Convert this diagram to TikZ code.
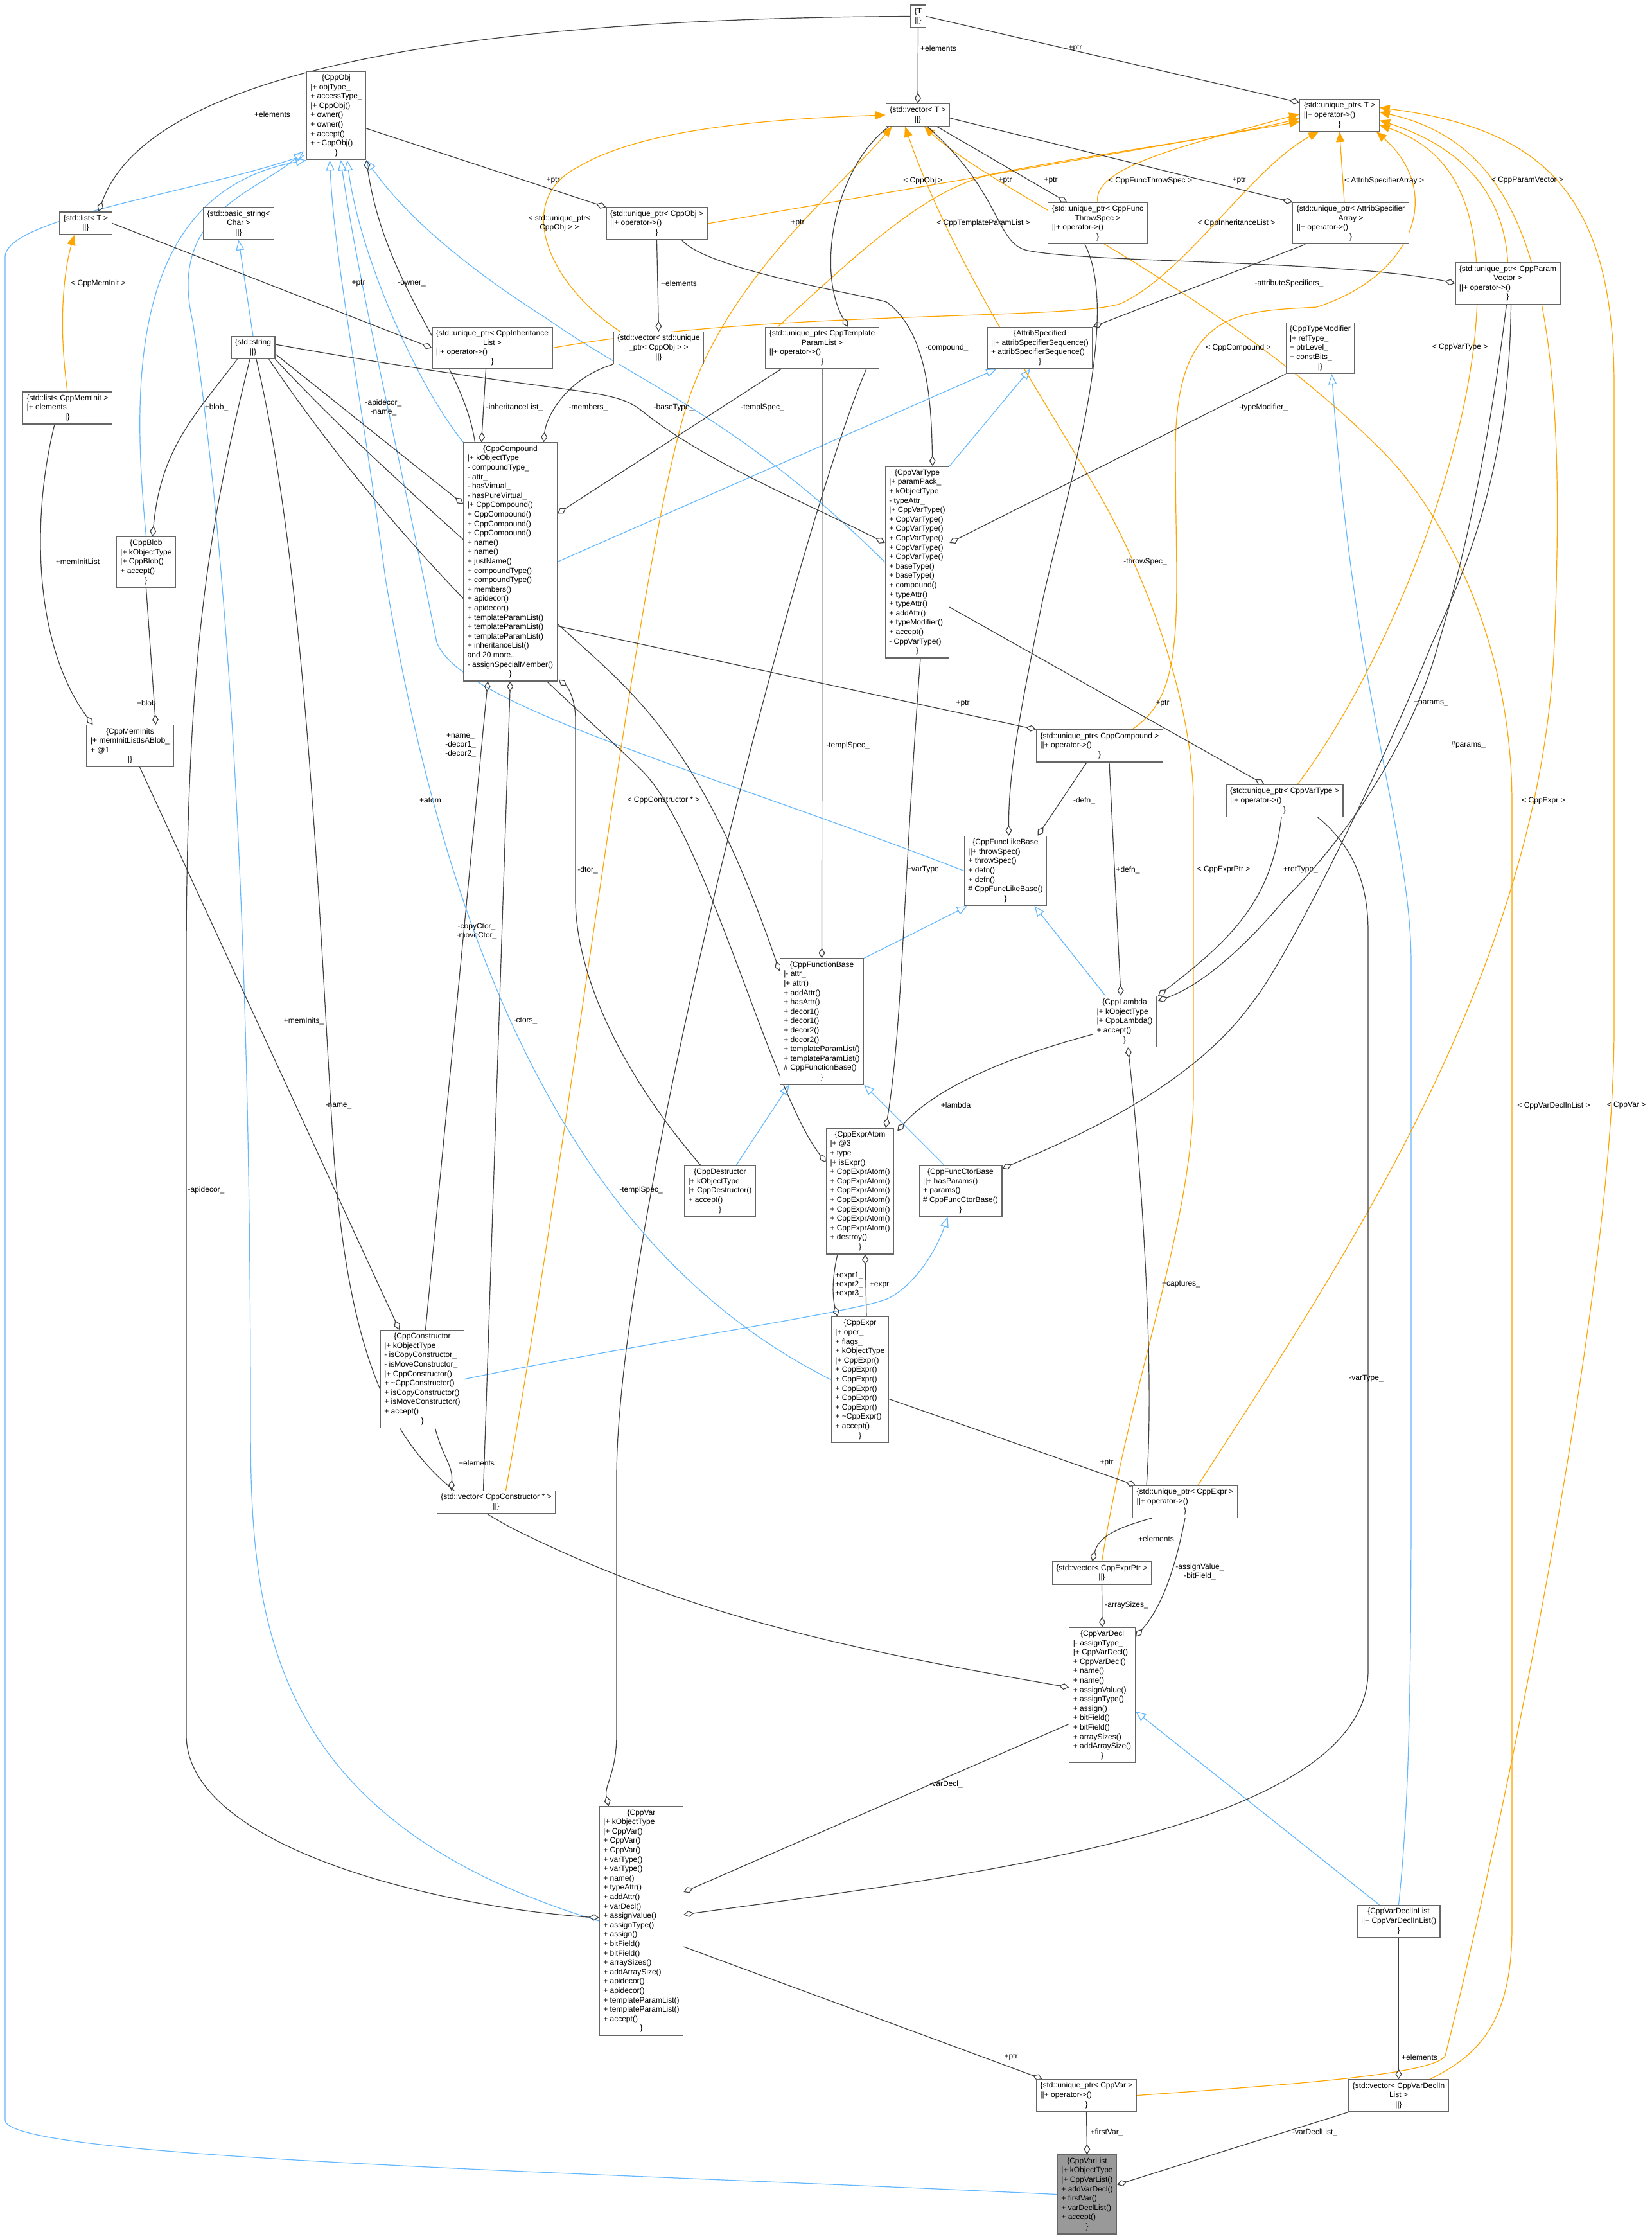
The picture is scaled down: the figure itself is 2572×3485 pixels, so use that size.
\documentclass[tikz,border=0pt]{standalone}
\usepackage{fontspec}
\setmainfont{Liberation Sans}
\usetikzlibrary{arrows.meta,calc}
\pgfdeclarelayer{bg}
\pgfsetlayers{bg,main}
\definecolor{dk}{HTML}{404040}
\definecolor{bl}{HTML}{63B8FF}
\definecolor{orr}{HTML}{FFA500}
\definecolor{bx}{HTML}{666666}
\newcommand\cc[1]{\multicolumn{1}{@{}c@{}}{#1}}
\newcommand\rec[1]{\begin{tabular}{@{}l@{}}#1\end{tabular}}
\tikzset{
 box/.style={draw=bx,line width=1.3pt,fill=white,inner xsep=6pt,inner ysep=3pt,font=\fontsize{12}{14.6}\selectfont},
 lbl/.style={font=\fontsize{12}{14}\selectfont,inner sep=1pt,align=center},
 comp/.style={draw=dk,line width=1.2pt,-{Diamond[open,length=16pt,width=10pt]}},
 inh/.style={draw=bl,line width=1.2pt,-{Triangle[open,length=16pt,width=13pt]}},
 tpl/.style={draw=orr,line width=1.2pt,-{Triangle[length=16pt,width=13pt]}},
}
\begin{document}
\begin{tikzpicture}[x=1pt,y=-1pt]
\path[use as bounding box] (0,0) rectangle (2572,3485);
% nodes
\node[box] (T) at (1429.5,25.5) {\rec{\cc{\{T}\\\cc{||\}}}};
\node[box] (vecT) at (1429,179) {\rec{\cc{\{std::vector< T >}\\\cc{||\}}}};
\node[box] (uT) at (2085.5,179.5) {\rec{\cc{\{std::unique\_ptr< T >}\\||+ operator->()\\\cc{\}}}};
\node[box] (obj) at (523.5,180) {\rec{\cc{\{CppObj}\\|+ objType\_\\+ accessType\_\\|+ CppObj()\\+ owner()\\+ owner()\\+ accept()\\+ \textasciitilde CppObj()\\\cc{\}}}};
\node[box] (listT) at (133.5,347.5) {\rec{\cc{\{std::list< T >}\\\cc{||\}}}};
\node[box] (bstr) at (371.5,348) {\rec{\cc{\{std::basic\_string<}\\\cc{Char >}\\\cc{||\}}}};
\node[box] (str) at (394,541) {\rec{\cc{\{std::string}\\\cc{||\}}}};
\node[box] (listMI) at (105,635) {\rec{\{std::list< CppMemInit >\\|+ elements\\\cc{|\}}}};
\node[box] (blob) at (227.5,875) {\rec{\cc{\{CppBlob}\\|+ kObjectType\\|+ CppBlob()\\+ accept()\\\cc{\}}}};
\node[box] (memInits) at (202.5,1161) {\rec{\cc{\{CppMemInits}\\|+ memInitListIsABlob\_\\+ @1\\\cc{|\}}}};
\node[box] (comp) at (794.5,874.5) {\rec{\cc{\{CppCompound}\\|+ kObjectType\\- compoundType\_\\- attr\_\\- hasVirtual\_\\- hasPureVirtual\_\\|+ CppCompound()\\+ CppCompound()\\+ CppCompound()\\+ CppCompound()\\+ name()\\+ name()\\+ justName()\\+ compoundType()\\+ compoundType()\\+ members()\\+ apidecor()\\+ apidecor()\\+ templateParamList()\\+ templateParamList()\\+ templateParamList()\\+ inheritanceList()\\and 20 more...\\- assignSpecialMember()\\\cc{\}}}};
\node[box] (uInh) at (766.5,541.5) {\rec{\cc{\{std::unique\_ptr< CppInheritance}\\\cc{List >}\\||+ operator->()\\\cc{\}}}};
\node[box] (uObj) at (1022.5,348) {\rec{\{std::unique\_ptr< CppObj >\\||+ operator->()\\\cc{\}}}};
\node[box] (vObj) at (1025.5,541.5) {\rec{\cc{\{std::vector< std::unique}\\\cc{\_ptr< CppObj > >}\\\cc{||\}}}};
\node[box] (uTpl) at (1280,541.5) {\rec{\cc{\{std::unique\_ptr< CppTemplate}\\\cc{ParamList >}\\||+ operator->()\\\cc{\}}}};
\node[box] (uThrow) at (1709,347.5) {\rec{\cc{\{std::unique\_ptr< CppFunc}\\\cc{ThrowSpec >}\\||+ operator->()\\\cc{\}}}};
\node[box] (uAttr) at (2103,347.5) {\rec{\cc{\{std::unique\_ptr< AttribSpecifier}\\\cc{Array >}\\||+ operator->()\\\cc{\}}}};
\node[box] (uParam) at (2347.5,441) {\rec{\cc{\{std::unique\_ptr< CppParam}\\\cc{Vector >}\\||+ operator->()\\\cc{\}}}};
\node[box] (attrSp) at (1619,541.5) {\rec{\cc{\{AttribSpecified}\\||+ attribSpecifierSequence()\\+ attribSpecifierSequence()\\\cc{\}}}};
\node[box] (typeMod) at (2055.5,542) {\rec{\cc{\{CppTypeModifier}\\|+ refType\_\\+ ptrLevel\_\\+ constBits\_\\\cc{|\}}}};
\node[box] (varType) at (1428,875) {\rec{\cc{\{CppVarType}\\|+ paramPack\_\\+ kObjectType\\- typeAttr\_\\|+ CppVarType()\\+ CppVarType()\\+ CppVarType()\\+ CppVarType()\\+ CppVarType()\\+ CppVarType()\\+ baseType()\\+ baseType()\\+ compound()\\+ typeAttr()\\+ typeAttr()\\+ addAttr()\\+ typeModifier()\\+ accept()\\- CppVarType()\\\cc{\}}}};
\node[box] (uComp) at (1712,1161) {\rec{\{std::unique\_ptr< CppCompound >\\||+ operator->()\\\cc{\}}}};
\node[box] (uVarType) at (2000,1246.5) {\rec{\{std::unique\_ptr< CppVarType >\\||+ operator->()\\\cc{\}}}};
\node[box] (funcLike) at (1565.5,1355.5) {\rec{\cc{\{CppFuncLikeBase}\\||+ throwSpec()\\+ throwSpec()\\+ defn()\\+ defn()\\\# CppFuncLikeBase()\\\cc{\}}}};
\node[box] (funcBase) at (1279.5,1590) {\rec{\cc{\{CppFunctionBase}\\|- attr\_\\|+ attr()\\+ addAttr()\\+ hasAttr()\\+ decor1()\\+ decor1()\\+ decor2()\\+ decor2()\\+ templateParamList()\\+ templateParamList()\\\# CppFunctionBase()\\\cc{\}}}};
\node[box] (lambda) at (1751,1590) {\rec{\cc{\{CppLambda}\\|+ kObjectType\\|+ CppLambda()\\+ accept()\\\cc{\}}}};
\node[box] (atom) at (1339,1854) {\rec{\cc{\{CppExprAtom}\\|+ @3\\+ type\\|+ isExpr()\\+ CppExprAtom()\\+ CppExprAtom()\\+ CppExprAtom()\\+ CppExprAtom()\\+ CppExprAtom()\\+ CppExprAtom()\\+ CppExprAtom()\\+ destroy()\\\cc{\}}}};
\node[box] (ctorBase) at (1495.5,1854) {\rec{\cc{\{CppFuncCtorBase}\\||+ hasParams()\\+ params()\\\# CppFuncCtorBase()\\\cc{\}}}};
\node[box] (dtor) at (1121,1854) {\rec{\cc{\{CppDestructor}\\|+ kObjectType\\|+ CppDestructor()\\+ accept()\\\cc{\}}}};
\node[box] (expr) at (1339,2147.5) {\rec{\cc{\{CppExpr}\\|+ oper\_\\+ flags\_\\+ kObjectType\\|+ CppExpr()\\+ CppExpr()\\+ CppExpr()\\+ CppExpr()\\+ CppExpr()\\+ CppExpr()\\+ \textasciitilde CppExpr()\\+ accept()\\\cc{\}}}};
\node[box] (ctor) at (657.5,2146.5) {\rec{\cc{\{CppConstructor}\\|+ kObjectType\\- isCopyConstructor\_\\- isMoveConstructor\_\\|+ CppConstructor()\\+ \textasciitilde CppConstructor()\\+ isCopyConstructor()\\+ isMoveConstructor()\\+ accept()\\\cc{\}}}};
\node[box] (vCtor) at (772.5,2338) {\rec{\{std::vector< CppConstructor * >\\\cc{||\}}}};
\node[box] (uExpr) at (1845,2337.5) {\rec{\{std::unique\_ptr< CppExpr >\\||+ operator->()\\\cc{\}}}};
\node[box] (vExprPtr) at (1715.5,2448.5) {\rec{\{std::vector< CppExprPtr >\\\cc{||\}}}};
\node[box] (varDecl) at (1716,2638.5) {\rec{\cc{\{CppVarDecl}\\|- assignType\_\\|+ CppVarDecl()\\+ CppVarDecl()\\+ name()\\+ name()\\+ assignValue()\\+ assignType()\\+ assign()\\+ bitField()\\+ bitField()\\+ arraySizes()\\+ addArraySize()\\\cc{\}}}};
\node[box] (var) at (998.5,2990) {\rec{\cc{\{CppVar}\\|+ kObjectType\\|+ CppVar()\\+ CppVar()\\+ CppVar()\\+ varType()\\+ varType()\\+ name()\\+ typeAttr()\\+ addAttr()\\+ varDecl()\\+ assignValue()\\+ assignType()\\+ assign()\\+ bitField()\\+ bitField()\\+ arraySizes()\\+ addArraySize()\\+ apidecor()\\+ apidecor()\\+ templateParamList()\\+ templateParamList()\\+ accept()\\\cc{\}}}};
\node[box] (uVar) at (1691.5,3261.5) {\rec{\{std::unique\_ptr< CppVar >\\||+ operator->()\\\cc{\}}}};
\node[box,fill={rgb,255:red,153;green,153;blue,153}] (varList) at (1692.5,3415.5) {\rec{\cc{\{CppVarList}\\|+ kObjectType\\|+ CppVarList()\\+ addVarDecl()\\+ firstVar()\\+ varDeclList()\\+ accept()\\\cc{\}}}};
\node[box] (varDeclIn) at (2177.5,2990.5) {\rec{\cc{\{CppVarDeclInList}\\||+ CppVarDeclInList()\\\cc{\}}}};
\node[box] (vVarDeclIn) at (2177.5,3262) {\rec{\cc{\{std::vector< CppVarDeclIn}\\\cc{List >}\\\cc{||\}}}};

\begin{pgfonlayer}{bg}
\fill[white] (0,0) rectangle (2572,3485);
% ---------- blue inheritance ----------
\draw[inh] (str.north) -- (bstr.south);
\draw[inh] (blob.north) .. controls (205,600) and (200,300) .. (obj.south west);
\draw[inh] (varList.west) .. controls (900,3380) and (10,3360) .. (8,3300) -- (8,400) .. controls (8,340) and (300,300) .. ($(obj.south west)+(-2,-8)$);
\draw[inh] (comp.north west) .. controls (650,600) and (560,400) .. ($(obj.south)+(17,0)$);
\draw[inh] (var.west) .. controls (400,2830) and (390,2500) .. (390,2200) .. controls (390,1200) and (330,700) .. (300,500) .. controls (260,330) and (400,300) .. ($(obj.south west)+(-4,-14)$);
\draw[inh] (expr.west) .. controls (900,1950) and (700,1500) .. (600,900) .. controls (560,600) and (520,400) .. ($(obj.south)+(-10,0)$);
\draw[inh] (varType.west) .. controls (1150,650) and (1000,600) .. (850,495) .. controls (700,400) and (620,320) .. (obj.south east);
\draw[inh] (funcLike.west) .. controls (1100,1200) and (720,1100) .. (680,1000) .. controls (620,700) and (560,450) .. ($(obj.south)+(7,0)$);
\draw[inh] (comp.east) -- ($(attrSp.south west)+(15,0)$);
\draw[inh] (varType.north east) -- ($(attrSp.south)+(-15,0)$);
\draw[inh] (funcBase.north east) -- ($(funcLike.south west)+(5,0)$);
\draw[inh] ($(lambda.north)+(-30,0)$) -- ($(funcLike.south)+(45,0)$);
\draw[inh] ($(dtor.north)+(25,0)$) -- ($(funcBase.south west)+(15,0)$);
\draw[inh] ($(ctorBase.north)+(-25,0)$) -- (funcBase.south east);
\draw[inh] (ctor.east) .. controls (1000,2090) and (1350,2040) .. (1385,2020) .. controls (1430,1995) and (1460,1940) .. ($(ctorBase.south)+(-20,0)$);
\draw[inh] ($(varDeclIn.north)+(-30,0)$) -- ($(varDecl.east)+(0,25)$);
\draw[inh] (varDeclIn.north) .. controls (2195,2800) and (2197,2600) .. (2197,2300) -- (2197,1500) .. controls (2197,1300) and (2110,1100) .. ($(typeMod.south)+(18,0)$);

% ---------- orange templates ----------
\draw[tpl] (listMI.north) .. controls (90,500) and (100,420) .. ($(listT.south)+(-18,0)$);
\draw[tpl] (uObj.east) -- ($(uT.west)+(0,10)$);
\draw[tpl] ($(vObj.north)+(-60,0)$) .. controls (850,440) and (800,310) .. (900,260) .. controls (1000,200) and (1200,185) .. (vecT.west);
\draw[tpl] (uInh.east) .. controls (1200,480) and (1700,500) .. (1750,470) .. controls (1850,420) and (1950,260) .. ($(uT.south west)+(30,0)$);
\draw[tpl] ($(uTpl.north west)+(20,0)$) .. controls (1350,380) and (1450,290) .. (1550,270) .. controls (1700,240) and (1900,215) .. ($(uT.west)+(0,5)$);
\draw[tpl] (uThrow.north) .. controls (1700,260) and (1850,225) .. ($(uT.west)+(0,-2)$);
\draw[tpl] ($(uAttr.north)+(-10,0)$) -- (uT.south);
\draw[tpl] (uParam.north) .. controls (2340,280) and (2250,220) .. ($(uT.east)+(0,8)$);
\draw[tpl] ($(uComp.north)+(50,0)$) .. controls (1850,1080) and (1830,950) .. (1830,700) .. controls (1830,480) and (1930,485) .. (2050,478) .. controls (2200,430) and (2250,300) .. ($(uT.south east)+(-5,0)$);
\draw[tpl] ($(uVarType.north)+(20,0)$) .. controls (2150,1050) and (2300,700) .. (2300,450) .. controls (2300,300) and (2250,230) .. ($(uT.east)+(0,15)$);
\draw[tpl] ($(uExpr.north)+(20,0)$) .. controls (2100,1950) and (2400,1500) .. (2420,1000) .. controls (2440,500) and (2400,230) .. ($(uT.east)+(0,-5)$);
\draw[tpl] (uVar.east) .. controls (2000,3245) and (2230,3230) .. (2250,3200) .. controls (2350,2800) and (2513,2000) .. (2513,1600) -- (2513,600) .. controls (2513,300) and (2400,200) .. ($(uT.east)+(0,-12)$);
\draw[tpl] ($(vCtor.north)+(15,0)$) .. controls (900,1700) and (1000,800) .. (1080,600) .. controls (1150,420) and (1300,300) .. ($(vecT.south west)+(10,0)$);
\draw[tpl] ($(vExprPtr.north)+(0,0)$) .. controls (1760,2150) and (1858,1900) .. (1858,1700) -- (1858,1250) .. controls (1858,1100) and (1790,900) .. (1700,750) .. controls (1600,580) and (1480,400) .. ($(vecT.south)+(-20,0)$);
\draw[tpl] ($(vVarDeclIn.north east)+(-30,0)$) .. controls (2300,3200) and (2354,3150) .. (2354,3000) -- (2354,1250) .. controls (2354,1000) and (2250,800) .. (2150,700) .. controls (1900,450) and (1550,300) .. ($(vecT.south)+(10,0)$);

% ---------- dark composition ----------
\draw[comp] (T.south) -- (vecT.north);
\draw[comp] (T.east) -- ($(uT.west)+(0,-20)$);
\draw[comp] (T.west) .. controls (400,30) and (200,200) .. ($(listT.north)+(20,0)$);
\draw[comp] ($(obj.east)+(0,20)$) -- ($(uObj.north west)+(0,0)$);
\draw[comp] ($(comp.north)+(-55,0)$) .. controls (720,560) and (600,450) .. ($(obj.south east)+(0,0)$);
\draw[comp] (listT.east) -- (uInh.west);
\draw[comp] (uObj.south) -- (vObj.north);
\draw[comp] ($(uInh.south)+(-10,0)$) -- ($(comp.north)+(-45,0)$);
\draw[comp] ($(vObj.south west)+(0,0)$) .. controls (880,590) and (850,650) .. ($(comp.north)+(52,0)$);
\draw[comp] ($(str.east)+(0,10)$) -- ($(comp.west)+(0,-90)$);
\draw[comp] ($(str.east)+(0,-5)$) .. controls (900,620) and (950,600) .. (1000,640) .. controls (1100,720) and (1250,780) .. ($(varType.west)+(0,-30)$);
\draw[comp] ($(uTpl.south west)+(25,0)$) -- ($(comp.east)+(0,-75)$);
\draw[comp] ($(uTpl.south)+(0,0)$) -- (funcBase.north);
\draw[comp] ($(uTpl.south east)+(-20,0)$) .. controls (1250,800) and (960,1900) .. (960,2300) -- (960,2700) .. controls (960,2760) and (940,2780) .. ($(var.north west)+(15,0)$);
\draw[comp] ($(str.south west)+(10,0)$) .. controls (300,650) and (250,700) .. ($(blob.north)+(10,0)$);
\draw[comp] (blob.south) -- ($(memInits.north)+(40,0)$);
\draw[comp] ($(listMI.south)+(-20,0)$) .. controls (50,800) and (50,1000) .. ($(memInits.north west)+(10,0)$);
\draw[comp] ($(memInits.south)+(15,0)$) -- ($(ctor.north west)+(30,0)$);
\draw[comp] ($(ctor.north)+(5,0)$) -- ($(comp.south)+(-35,0)$);
\draw[comp] ($(vCtor.north)+(-20,0)$) -- ($(comp.south)+(0,0)$);
\draw[comp] ($(dtor.north)+(-30,0)$) .. controls (950,1650) and (896,1500) .. (896,1400) -- (896,1120) .. controls (896,1090) and (885,1070) .. ($(comp.south east)+(2,-3)$);
\draw[comp] ($(ctor.south)+(20,0)$) .. controls (690,2270) and (705,2280) .. ($(vCtor.north)+(-70,0)$);
\draw[comp] ($(str.south east)+(0,0)$) .. controls (560,700) and (700,820) .. (900,1000) .. controls (1000,1090) and (1100,1180) .. ($(funcBase.north west)+(0,20)$);
\draw[comp] ($(str.south east)+(-10,0)$) .. controls (650,900) and (900,1100) .. (1000,1200) .. controls (1100,1300) and (1200,1700) .. ($(atom.west)+(0,-45)$);
\draw[comp] ($(str.south)+(5,0)$) .. controls (480,900) and (500,1500) .. (520,1800) .. controls (550,2200) and (650,2300) .. (800,2380) .. controls (1100,2530) and (1400,2580) .. ($(varDecl.west)+(0,-12)$);
\draw[comp] ($(str.south)+(-5,0)$) .. controls (330,800) and (290,1000) .. (290,1500) -- (290,2700) .. controls (290,2880) and (700,2970) .. ($(var.west)+(0,-5)$);
\draw[comp] ($(uThrow.south)+(-20,0)$) .. controls (1750,500) and (1650,800) .. (1620,950) .. controls (1590,1100) and (1570,1200) .. ($(funcLike.north)+(5,0)$);
\draw[comp] ($(uAttr.south west)+(20,0)$) -- ($(attrSp.north east)+(0,0)$);
\draw[comp] (typeMod.south west) -- ($(varType.east)+(0,-30)$);
\draw[comp] ($(uObj.south east)+(-40,0)$) .. controls (1100,420) and (1350,460) .. (1380,470) .. controls (1450,520) and (1450,650) .. ($(varType.north)+(24,0)$);
\draw[comp] ($(varType.east)+(0,70)$) -- ($(uVarType.north west)+(60,0)$);
\draw[comp] ($(comp.east)+(0,100)$) -- ($(uComp.north west)+(0,0)$);
\draw[comp] ($(uComp.south)+(-20,0)$) -- ($(funcLike.north)+(50,0)$);
\draw[comp] ($(uComp.south)+(15,0)$) -- ($(lambda.north)+(-6,0)$);
\draw[comp] ($(uVarType.south)+(-5,0)$) .. controls (1980,1400) and (1920,1460) .. ($(lambda.north east)+(2,0)$);
\draw[comp] ($(uParam.south)+(-2,0)$) .. controls (2330,600) and (2300,800) .. (2240,1000) .. controls (2200,1150) and (2100,1300) .. (2000,1400) .. controls (1950,1460) and (1880,1530) .. ($(lambda.north east)+(2,8)$);
\draw[comp] ($(uParam.south)+(5,0)$) .. controls (2350,700) and (2300,850) .. (2230,1000) .. controls (2150,1200) and (2000,1500) .. (1950,1560) .. controls (1850,1700) and (1650,1780) .. ($(ctorBase.north east)+(0,5)$);
\draw[comp] ($(varType.south)+(5,0)$) .. controls (1405,1400) and (1405,1600) .. ($(atom.north)+(40,0)$);
\draw[comp] ($(lambda.west)+(0,20)$) .. controls (1550,1650) and (1450,1700) .. ($(atom.north east)+(5,5)$);
\draw[comp] ($(expr.north)+(10,0)$) -- ($(atom.south)+(8,0)$);
\draw[comp] ($(atom.south)+(-35,0)$) .. controls (1295,1990) and (1296,2020) .. ($(expr.north)+(-35,0)$);
\draw[comp] ($(expr.east)+(0,30)$) -- ($(uExpr.north west)+(5,0)$);
\draw[comp] ($(uExpr.north)+(-60,0)$) .. controls (1800,2100) and (1770,1750) .. ($(lambda.south)+(5,0)$);
\draw[comp] ($(uExpr.south west)+(30,0)$) .. controls (1730,2380) and (1710,2395) .. ($(vExprPtr.north)+(-15,0)$);
\draw[comp] ($(uExpr.south)+(0,0)$) .. controls (1830,2440) and (1810,2500) .. ($(varDecl.north east)+(0,15)$);
\draw[comp] (vExprPtr.south) -- (varDecl.north);
\draw[comp] ($(uVarType.south east)+(-40,0)$) .. controls (2110,1320) and (2130,1380) .. (2130,1450) -- (2130,2600) .. controls (2130,2850) and (1500,2920) .. ($(var.east)+(0,-10)$);
\draw[comp] ($(varDecl.west)+(0,45)$) -- ($(var.east)+(0,-45)$);
\draw[comp] ($(var.east)+(0,40)$) -- ($(uVar.north west)+(10,0)$);
\draw[comp] (uVar.south) -- (varList.north);
\draw[comp] (vVarDeclIn.south west) -- ($(varList.east)+(0,-15)$);
\draw[comp] (varDeclIn.south) -- (vVarDeclIn.north);
\draw[comp] ($(vecT.south)+(30,0)$) -- ($(uThrow.north west)+(30,0)$);
\draw[comp] ($(vecT.east)+(0,5)$) -- (uAttr.north west);
\draw[comp] ($(vecT.south)+(15,0)$) .. controls (1560,300) and (1550,380) .. (1600,390) .. controls (1700,410) and (2100,405) .. (uParam.west);
\draw[comp] ($(vecT.south west)+(5,0)$) .. controls (1300,260) and (1270,420) .. ($(uTpl.north)+(40,0)$);
\end{pgfonlayer}

% ---------- labels ----------
\node[lbl] (l1) at (1461,75) {+elements};
\node[lbl] (l2) at (1674,75) {+ptr};
\node[lbl] (l3) at (424,178) {+elements};
\node[lbl] (l4) at (861,281) {+ptr};
\node[lbl] (l5) at (558,441) {+ptr};
\node[lbl] (l6) at (641,441) {-owner\_};
\node[lbl] (l7) at (1057,441) {+elements};
\node[lbl] (l8) at (153,441) {< CppMemInit >};
\node[lbl] (l9) at (871,347) {< std::unique\_ptr<\\CppObj > >};
\node[lbl] (l10) at (597,634) {-apidecor\_\\-name\_};
\node[lbl] (l11) at (801,634) {-inheritanceList\_};
\node[lbl] (l12) at (916,634) {-members\_};
\node[lbl] (l13) at (1049,634) {-baseType\_};
\node[lbl] (l14) at (1187,634) {-templSpec\_};
\node[lbl] (l15) at (337,634) {+blob\_};
\node[lbl] (l16) at (121,874) {+memInitList};
\node[lbl] (l17) at (228,1094) {+blob};
\node[lbl] (l18) at (1242,347) {+ptr};
\node[lbl] (l19) at (1437,281) {< CppObj >};
\node[lbl] (l20) at (1565,281) {+ptr};
\node[lbl] (l21) at (1636,281) {+ptr};
\node[lbl] (l22) at (1791,281) {< CppFuncThrowSpec >};
\node[lbl] (l23) at (1929,281) {+ptr};
\node[lbl] (l24) at (2155,281) {< AttribSpecifierArray >};
\node[lbl] (l25) at (2378,281) {< CppParamVector >};
\node[lbl] (l26) at (1531,347) {< CppTemplateParamList >};
\node[lbl] (l27) at (1925,347) {< CppInheritanceList >};
\node[lbl] (l28) at (2007,441) {-attributeSpecifiers\_};
\node[lbl] (l29) at (1474,541) {-compound\_};
\node[lbl] (l30) at (1928,541) {< CppCompound >};
\node[lbl] (l31) at (2273,541) {< CppVarType >};
\node[lbl] (l32) at (1967,634) {-typeModifier\_};
\node[lbl] (l33) at (1783,874) {-throwSpec\_};
\node[lbl] (l34) at (1499,1095) {+ptr};
\node[lbl] (l35) at (1810,1095) {+ptr};
\node[lbl] (l36) at (2228,1094) {+params\_};
\node[lbl] (l37) at (2286,1160) {\#params\_};
\node[lbl] (l38) at (1320,1160) {-templSpec\_};
\node[lbl] (l39) at (1688,1246) {-defn\_};
\node[lbl] (l40) at (1437,1354) {+varType};
\node[lbl] (l41) at (1756,1354) {+defn\_};
\node[lbl] (l42) at (1905,1354) {< CppExprPtr >};
\node[lbl] (l43) at (2025,1354) {+retType\_};
\node[lbl] (l44) at (1488,1720) {+lambda};
\node[lbl,align=left] (l45) at (1322,2000) {+expr1\_\\+expr2\_\\+expr3\_};
\node[lbl] (l46) at (1369,2000) {+expr};
\node[lbl] (l47) at (1839,1999) {+captures\_};
\node[lbl] (l48) at (2127,2146) {-varType\_};
\node[lbl] (l49) at (2403,1247) {< CppExpr >};
\node[lbl] (l50) at (2419,1721) {< CppVarDeclInList >};
\node[lbl] (l51) at (2532,1721) {< CppVar >};
\node[lbl] (l52) at (717,1160) {+name\_\\-decor1\_\\-decor2\_};
\node[lbl] (l53) at (670,1246) {+atom};
\node[lbl] (l54) at (1033,1246) {< CppConstructor * >};
\node[lbl] (l55) at (915,1354) {-dtor\_};
\node[lbl] (l56) at (742,1449) {-copyCtor\_\\-moveCtor\_};
\node[lbl] (l57) at (473,1589) {+memInits\_};
\node[lbl] (l58) at (818,1589) {-ctors\_};
\node[lbl] (l59) at (527,1721) {-name\_};
\node[lbl] (l60) at (321,1852) {-apidecor\_};
\node[lbl] (l61) at (998,1852) {-templSpec\_};
\node[lbl] (l62) at (742,2277) {+elements};
\node[lbl] (l63) at (1723,2277) {+ptr};
\node[lbl] (l64) at (1800,2395) {+elements};
\node[lbl] (l65) at (1868,2446) {-assignValue\_\\-bitField\_};
\node[lbl] (l66) at (1754,2498) {-arraySizes\_};
\node[lbl] (l67) at (1473,2777) {-varDecl\_};
\node[lbl] (l68) at (1574,3202) {+ptr};
\node[lbl] (l69) at (1723,3319) {+firstVar\_};
\node[lbl] (l70) at (2210,3202) {+elements};
\node[lbl] (l71) at (2047,3319) {-varDeclList\_};
\end{tikzpicture}
\end{document}
